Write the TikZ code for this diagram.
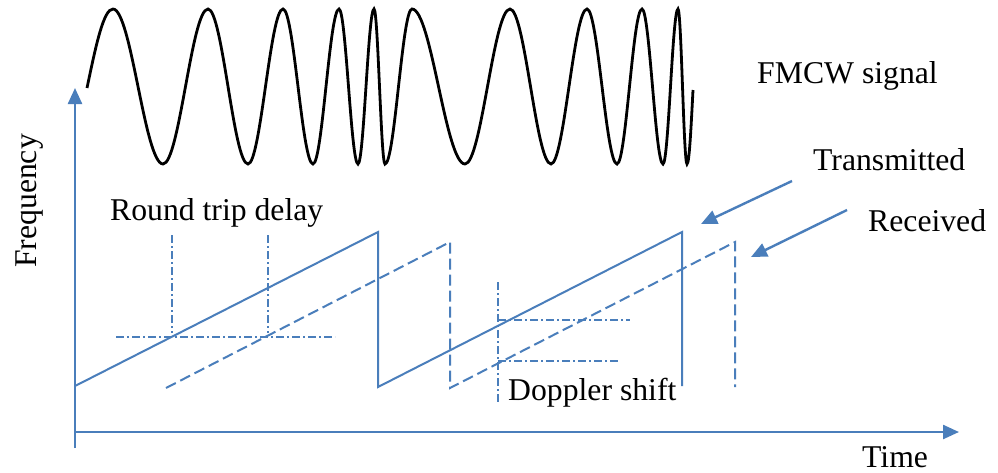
\documentclass[tikz,border=0pt]{standalone}
\usepackage{fontspec}
\setmainfont{Liberation Serif}
\usetikzlibrary{arrows.meta}
\definecolor{lineblue}{RGB}{74,126,187}
\tikzset{
  lbl/.style={font=\fontsize{31.7}{38}\selectfont, inner sep=0pt, anchor=base west},
  axisline/.style={draw=lineblue, line width=2.4pt},
  bigtip/.style={-{Triangle[length=16pt,width=14pt]}},
  txline/.style={draw=lineblue, line width=2pt, line join=miter},
  rxline/.style={draw=lineblue, line width=2pt, dash pattern=on 11pt off 5pt},
  guide/.style={draw=lineblue, line width=1.7pt, dash pattern=on 8pt off 3pt on 2pt off 3pt},
  wave/.style={draw=black, line width=2.8pt},
}
\begin{document}
\begin{tikzpicture}[x=1pt,y=-1pt]
\useasboundingbox (0,0) rectangle (998,472);
\fill[white] (0,0) rectangle (998,472);

% FMCW chirp waveform
\draw[wave] (87,88) .. controls (96.1,44.5) and (103.6,9) .. (113,9)
  .. controls (131.2,9) and (144.8,164) .. (163,164)
  .. controls (179.4,164) and (191.6,9) .. (208,9)
  .. controls (222.5,9) and (233.5,164) .. (248,164)
  .. controls (260.7,164) and (270.3,9) .. (283,9)
  .. controls (293.9,9) and (302.1,164) .. (313,164)
  .. controls (322.4,164) and (329.6,9) .. (339,9)
  .. controls (345.9,9) and (351.1,164) .. (358,164)
  .. controls (363.8,164) and (368.2,9) .. (374,9)
  .. controls (378.0,9) and (381.0,164) .. (385,164)
  .. controls (394.8,164) and (402.2,9) .. (412,9)
  .. controls (431.3,9) and (445.7,164) .. (465,164)
  .. controls (481.4,164) and (493.6,9) .. (510,9)
  .. controls (524.9,9) and (536.1,164) .. (551,164)
  .. controls (564.1,164) and (573.9,9) .. (587,9)
  .. controls (597.9,9) and (606.1,164) .. (617,164)
  .. controls (626.1,164) and (632.9,9) .. (642,9)
  .. controls (649.6,9) and (655.4,164) .. (663,164)
  .. controls (668.5,164) and (672.5,9) .. (678,9)
  .. controls (681.3,9) and (683.7,164) .. (687,164)
  .. controls (689.2,164) and (690.9,130.7) .. (693,90);

% axes
\coordinate (ybot) at (75,448);
\coordinate (ytop) at (75,88);
\coordinate (xorig) at (75,432);
\coordinate (xend) at (959,432);
\draw[axisline, bigtip] (ybot) -- (ytop);
\draw[axisline, bigtip] (xorig) -- (xend);

% transmitted sawtooth
\coordinate (t0) at (75,386);
\coordinate (t1) at (378,232);
\coordinate (t2) at (378,387);
\coordinate (t3) at (682,232);
\coordinate (t4) at (682,386);
\draw[txline] (t0) -- (t1) -- (t2) -- (t3) -- (t4);

% received sawtooth
\coordinate (r0) at (166,388);
\coordinate (r1) at (450,242);
\coordinate (r2) at (450,388);
\coordinate (r3) at (735,242);
\coordinate (r4) at (735,387);
\draw[rxline] (r0) -- (r1) -- (r2) -- (r3) -- (r4);

% round trip delay guides
\coordinate (d1a) at (172,235); \coordinate (d1b) at (172,333);
\coordinate (d2a) at (268,235); \coordinate (d2b) at (268,333);
\coordinate (dha) at (116,337); \coordinate (dhb) at (335,337);
\draw[guide] (d1a) -- (d1b);
\draw[guide] (d2a) -- (d2b);
\draw[guide] (dha) -- (dhb);

% doppler shift guides
\coordinate (fva) at (498,282); \coordinate (fvb) at (498,403);
\coordinate (f1a) at (498,320); \coordinate (f1b) at (630,320);
\coordinate (f2a) at (498,361); \coordinate (f2b) at (620,361);
\draw[guide] (fva) -- (fvb);
\draw[guide] (f1a) -- (f1b);
\draw[guide] (f2a) -- (f2b);

% labels
\node[lbl] (fmcw) at (757,83) {FMCW signal};
\node[lbl] (tx) at (813,170) {Transmitted};
\node[lbl] (rx) at (868,231) {Received};
\node[lbl] (rtd) at (110,220) {Round trip delay};
\node[lbl] (dop) at (508,400) {Doppler shift};
\node[lbl] (time) at (862,467) {Time};
\node[font=\fontsize{31.7}{38}\selectfont, inner sep=0pt, rotate=90, anchor=base] (freq) at (36,201) {Frequency};

% pointer arrows
\coordinate (txs) at (792,181); \coordinate (txe) at (701,224);
\coordinate (rxs) at (847,210); \coordinate (rxe) at (751,257);
\draw[axisline, bigtip] (txs) -- (txe);
\draw[axisline, bigtip] (rxs) -- (rxe);
\end{tikzpicture}
\end{document}
